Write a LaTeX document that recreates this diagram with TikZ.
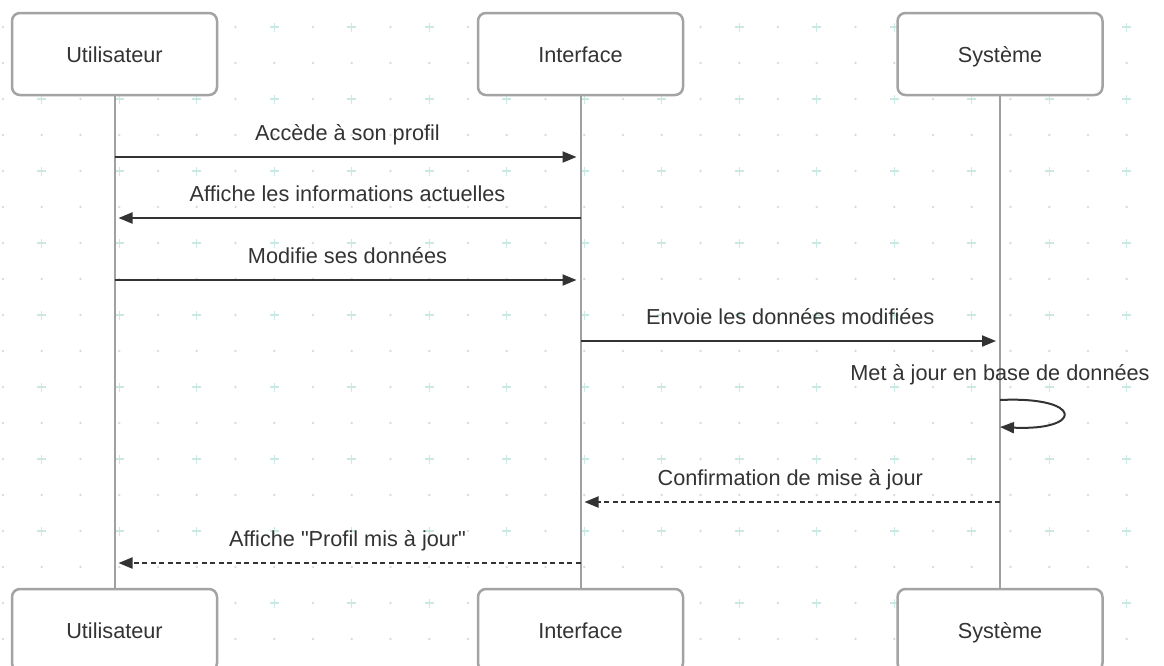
\documentclass[tikz,border=0pt]{standalone}
\usepackage{fontspec}
\setmainfont{Liberation Sans}[Ligatures=TeXOff]
\usetikzlibrary{arrows.meta,calc}
\definecolor{txt}{HTML}{333333}
\definecolor{boxgray}{HTML}{A3A3A3}
\definecolor{lifegray}{HTML}{A0A0A0}
\definecolor{plusc}{HTML}{CBE9E3}
\definecolor{dotc}{HTML}{DCDCDC}
\tikzset{
  actor/.style={draw=boxgray, line width=2.5pt, rounded corners=8pt, fill=white,
    minimum width=205pt, minimum height=82pt, text=txt, inner sep=0pt,
    text height=18pt, text depth=0.4pt,
    font=\fontsize{21.7}{26}\selectfont},
  life/.style={draw=lifegray, line width=2pt},
  msg/.style={draw=txt, line width=2pt, -{Triangle[length=14pt,width=11pt]}, shorten >=4pt},
  reply/.style={msg, dash pattern=on 5pt off 3.5pt},
  lbl/.style={text=txt, font=\fontsize{21.7}{26}\selectfont, anchor=base, inner sep=0pt},
}
\begin{document}
\begin{tikzpicture}[x=1pt,y=-1pt]
\useasboundingbox (0,0) rectangle (1164,665);
\fill[white] (0,0) rectangle (1164,665);
% background grid
\foreach \r in {0,...,8}{
  \pgfmathsetmacro{\yp}{27+72*\r}
  \pgfmathsetmacro{\yd}{63+72*\r}
  \foreach \k in {0,...,30}{
    \pgfmathsetmacro{\xx}{3+38.75*\k}
    \fill[dotc] (\xx,\yd) circle (1.3pt);
    \ifodd\k
      \draw[plusc, line width=1.4pt] (\xx-4.5,\yp) -- (\xx+4.5,\yp) (\xx,\yp-4.5) -- (\xx,\yp+4.5);
    \else
      \fill[dotc] (\xx,\yp) circle (1.3pt);
    \fi
  }
}
% actors
\node[actor] (u1) at (114.5,54) {Utilisateur};
\node[actor] (i1) at (580.5,54) {Interface};
\node[actor] (s1) at (1000,54) {Système};
\node[actor] (u2) at (114.5,630) {Utilisateur};
\node[actor] (i2) at (580.5,630) {Interface};
\node[actor] (s2) at (1000,630) {Système};
% lifelines
\draw[life] (u1.south) -- (u2.north);
\draw[life] (i1.south) -- (i2.north);
\draw[life] (s1.south) -- (s2.north);
% messages
\draw[msg] (u1.south |- 0,157) -- node[lbl, midway, yshift=16.5pt] {Accède à son profil} (i1.south |- 0,157);
\draw[msg] (i1.south |- 0,218) -- node[lbl, midway, yshift=16.5pt] {Affiche les informations actuelles} (u1.south |- 0,218);
\draw[msg] (u1.south |- 0,280) -- node[lbl, midway, yshift=16.5pt] {Modifie ses données} (i1.south |- 0,280);
\draw[msg] (i1.south |- 0,341) -- node[lbl, midway, yshift=16.5pt] {Envoie les données modifiées} (s1.south |- 0,341);
\node[lbl] (selflbl) at (1000,380) {Met à jour en base de données};
\draw[msg, shorten >=0pt] (s1.south |- 0,400) .. controls (1084,396) and (1084,431) .. (s1.south |- 0,427);
\draw[reply] (s1.south |- 0,502) -- node[lbl, midway, yshift=16.5pt] {Confirmation de mise à jour} (i1.south |- 0,502);
\draw[reply] (i1.south |- 0,563) -- node[lbl, midway, yshift=16.5pt] {Affiche "Profil mis à jour"} (u1.south |- 0,563);
\end{tikzpicture}
\end{document}
